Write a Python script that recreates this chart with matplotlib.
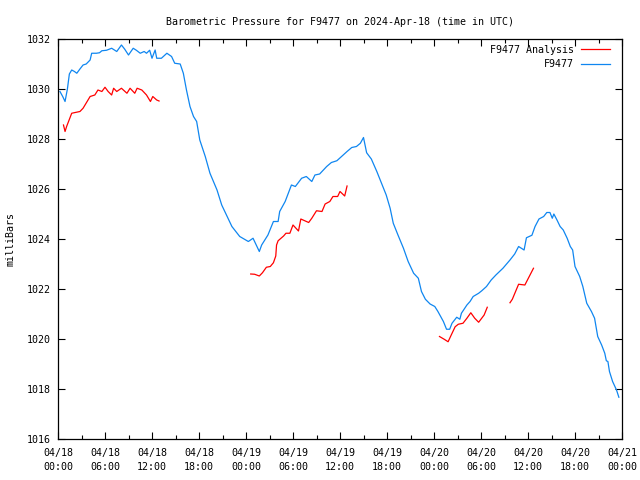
import numpy as np
import matplotlib
matplotlib.use("Agg")
import matplotlib.pyplot as plt

# hours since 2024-04-18 00:00 UTC
station_hours = [
    0.25, 0.6, 0.9, 1.2, 1.45, 1.75, 2.1, 2.4, 2.8, 3.2, 3.6, 4.1, 4.3, 4.9,
    5.3, 5.6, 6.2, 6.85, 7.5, 8.1, 8.5, 9.0, 9.6, 10.0, 10.5, 11.0, 11.3, 11.7,
    12.0, 12.4, 12.6, 13.2, 13.9, 14.5, 14.9, 15.6, 16.0, 16.4, 16.85, 17.3,
    17.7, 18.1, 18.8, 19.4, 20.3, 20.9, 21.5, 22.2, 23.2, 24.3, 24.9, 25.7,
    26.0, 26.8, 27.5, 28.1, 28.3, 29.0, 29.4, 29.8, 30.3, 31.1, 31.7, 32.4,
    32.8, 33.4, 34.3, 34.9, 35.6, 36.2, 36.9, 37.5, 38.1, 38.6, 39.0, 39.4,
    40.0, 40.7, 41.3, 41.9, 42.4, 42.8, 43.4, 44.1, 44.7, 45.4, 46.0, 46.4,
    46.9, 47.5, 48.1, 48.5, 49.2, 49.6, 50.0, 50.3, 50.9, 51.3, 51.5, 52.2,
    52.6, 53.0, 53.7, 54.1, 54.7, 55.3, 55.9, 56.8, 57.7, 58.3, 58.8, 59.5,
    59.8, 60.5, 60.9, 61.4, 62.0, 62.4, 62.8, 63.1, 63.3, 63.7, 64.1, 64.5,
    65.0, 65.4, 65.7, 66.0, 66.6, 67.0, 67.5, 68.1, 68.5, 68.9, 69.4, 69.8,
    70.0, 70.2, 70.4, 70.8, 71.3, 71.6,
]
station_mb = [
    1029.9, 1029.7, 1029.5, 1030.0, 1030.6, 1030.76, 1030.7, 1030.63, 1030.8,
    1030.96, 1031.0, 1031.16, 1031.43, 1031.43, 1031.45, 1031.53, 1031.55,
    1031.63, 1031.5, 1031.76, 1031.6, 1031.36, 1031.63, 1031.55, 1031.43,
    1031.5, 1031.43, 1031.55, 1031.23, 1031.56, 1031.23, 1031.23, 1031.43,
    1031.3, 1031.03, 1031.0, 1030.63, 1029.96, 1029.3, 1028.9, 1028.7,
    1027.96, 1027.3, 1026.63, 1025.96, 1025.36, 1024.96, 1024.5, 1024.1,
    1023.9, 1024.03, 1023.5, 1023.76, 1024.16, 1024.7, 1024.7, 1025.1, 1025.5,
    1025.83, 1026.16, 1026.1, 1026.43, 1026.5, 1026.3, 1026.56, 1026.6,
    1026.9, 1027.06, 1027.13, 1027.3, 1027.5, 1027.66, 1027.7, 1027.83,
    1028.06, 1027.45, 1027.2, 1026.7, 1026.23, 1025.76, 1025.23, 1024.63,
    1024.16, 1023.63, 1023.1, 1022.63, 1022.43, 1021.9, 1021.59, 1021.4,
    1021.3, 1021.1, 1020.7, 1020.39, 1020.39, 1020.63, 1020.87, 1020.79,
    1021.03, 1021.36, 1021.5, 1021.7, 1021.83, 1021.93, 1022.1, 1022.36,
    1022.56, 1022.83, 1023.16, 1023.4, 1023.7, 1023.56, 1024.05, 1024.15,
    1024.5, 1024.8, 1024.9, 1025.06, 1025.06, 1024.83, 1025.0, 1024.76,
    1024.5, 1024.36, 1024.03, 1023.7, 1023.56, 1022.9, 1022.5, 1022.1,
    1021.43, 1021.1, 1020.83, 1020.1, 1019.76, 1019.43, 1019.13, 1019.1,
    1018.7, 1018.3, 1017.96, 1017.67,
]

# analysis, nan = gap between runs
analysis_hours = [
    0.7, 0.9, 1.1, 1.75, 2.8, 3.2, 4.1, 4.7, 5.1, 5.6, 6.0, 6.4, 6.85, 7.1,
    7.5, 8.1, 8.8, 9.2, 9.8, 10.1, 10.7, 11.3, 11.8, 12.1, 12.6, 12.9,
    18.0,
    24.6, 25.1, 25.7, 26.1, 26.6, 27.1, 27.5, 27.8, 27.9, 28.1, 28.8, 29.1,
    29.6, 30.0, 30.7, 31.0, 32.0, 32.4, 33.0, 33.7, 34.1, 34.7, 35.1, 35.7,
    36.0, 36.6, 36.9,
    42.0,
    48.7, 49.3, 49.8, 50.2, 50.7, 51.1, 51.7, 52.2, 52.7, 53.2, 53.7, 54.4,
    54.8,
    56.0,
    57.7, 58.0, 58.8, 59.6, 60.7,
]
analysis_mb = [
    1028.56, 1028.3, 1028.5, 1029.03, 1029.1, 1029.23, 1029.7, 1029.76,
    1029.96, 1029.9, 1030.07, 1029.9, 1029.76, 1030.03, 1029.9, 1030.03,
    1029.83, 1030.03, 1029.83, 1030.03, 1029.96, 1029.76, 1029.5, 1029.7,
    1029.56, 1029.52,
    np.nan,
    1022.6, 1022.59, 1022.52, 1022.65, 1022.87, 1022.9, 1023.05, 1023.32,
    1023.76, 1023.93, 1024.12, 1024.23, 1024.23, 1024.56, 1024.32, 1024.8,
    1024.66, 1024.83, 1025.13, 1025.1, 1025.4, 1025.5, 1025.7, 1025.7,
    1025.9, 1025.72, 1026.12,
    np.nan,
    1020.1, 1019.99, 1019.89, 1020.16, 1020.49, 1020.59, 1020.63, 1020.83,
    1021.05, 1020.83, 1020.67, 1020.96, 1021.27,
    np.nan,
    1021.45, 1021.59, 1022.19, 1022.16, 1022.83,
]

tick_labels = [
    "04/18\n00:00", "04/18\n06:00", "04/18\n12:00", "04/18\n18:00",
    "04/19\n00:00", "04/19\n06:00", "04/19\n12:00", "04/19\n18:00",
    "04/20\n00:00", "04/20\n06:00", "04/20\n12:00", "04/20\n18:00",
    "04/21\n00:00",
]

plt.rcParams["font.family"] = "DejaVu Sans Mono"
plt.rcParams["font.size"] = 7.2

fig = plt.figure(figsize=(6.4, 4.8), dpi=100)
ax = fig.add_axes([58 / 640, 41 / 480, 564 / 640, 400 / 480])

ax.plot(analysis_hours, analysis_mb, color="#ff0000", lw=0.9, label="F9477 Analysis")
ax.plot(station_hours, station_mb, color="#0f86f0", lw=0.9, label="F9477")

ax.set_xlim(0, 72)
ax.set_ylim(1016, 1032)
ax.set_xticks(np.arange(0, 73, 6))
ax.set_xticks(np.arange(0, 73, 3), minor=True)
ax.set_xticklabels(tick_labels)
for lab in ax.get_xticklabels():
    lab.set_linespacing(1.55)
ax.set_yticks(np.arange(1016, 1033, 2))

ax.tick_params(which="both", direction="in", top=True, right=True, width=0.8,
               labelsize=7.2)
ax.tick_params(which="major", length=5)
ax.tick_params(which="minor", length=3)
ax.tick_params(axis="x", which="major", pad=6.5)
ax.tick_params(axis="y", which="major", pad=5.5)
for s in ax.spines.values():
    s.set_linewidth(0.9)

ax.set_ylabel("milliBars", labelpad=7.5)
ax.set_title("Barometric Pressure for F9477 on 2024-Apr-18 (time in UTC)",
             fontsize=7.2, pad=10)

ax.legend(loc="upper right", bbox_to_anchor=(0.986, 0.995), frameon=False,
          markerfirst=False, handlelength=2.9, handletextpad=0.75,
          borderaxespad=0, labelspacing=0.45)

fig.savefig("out.png", dpi=100)
